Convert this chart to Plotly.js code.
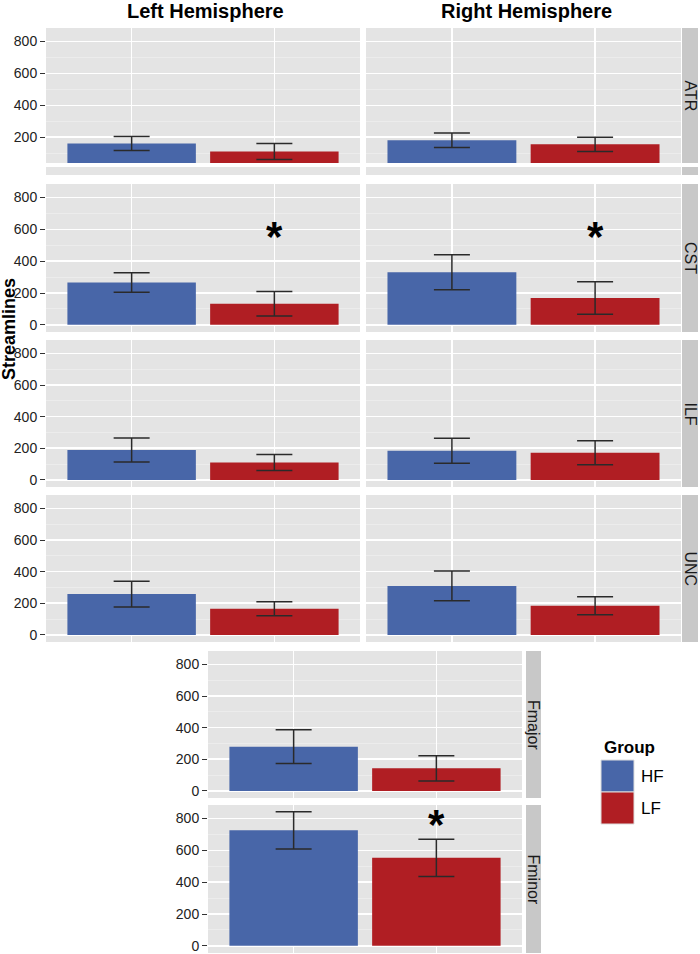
<!DOCTYPE html>
<html>
<head>
<meta charset="utf-8">
<script src="https://cdn.plot.ly/plotly-3.0.1.min.js"></script>
<style>html,body{margin:0;padding:0;background:#fff;}#chart{width:700px;height:954px;}</style>
</head>
<body>
<div id="chart"></div>
<script>
// ---- data ----
const groups = ['HF', 'LF'];
const tractsLR = ['ATR', 'CST', 'ILF', 'UNC'];
const tractsComm = ['Fmajor', 'Fminor'];
const hemispheres = ['Left Hemisphere', 'Right Hemisphere'];

const leftHF = [161, 266, 189, 258];
const leftHFerr = [44, 62, 76, 82];
const leftLF = [110, 133, 110, 165];
const leftLFerr = [50, 77, 51, 44];
const rightHF = [181, 330, 184, 310];
const rightHFerr = [46, 110, 79, 94];
const rightLF = [155, 169, 172, 185];
const rightLFerr = [45, 102, 76, 57];
const commHF = [280, 726];
const commHFerr = [107, 117];
const commLF = [143, 553];
const commLFerr = [80, 117];

// significance markers: [panel key, group, y value]
const sigPanel = ['left-CST', 'right-CST', 'comm-Fminor'];
const sigGroup = ['LF', 'LF', 'LF'];
const sigY = [555, 555, 762];

const yTicks = [0, 200, 400, 600, 800];
const yTitle = 'Streamlines';
const legendTitle = 'Group';

// ---- styles ----
const W = 700, H = 954;
const colHF = '#4866A8', colLF = '#B01E23';
const barColors = [colHF, colLF];
const errStyle = {type: 'data', visible: true, color: '#2a2a2a', thickness: 1.5, width: 18};
const px = v => v / W;
const py = v => 1 - v / H;

// column x-pixel extents
const colX = {left: [46, 360], right: [366, 681], comm: [208, 522]};
// row y-pixel extents (top, bottom)
const rowY = [[28, 163], [184, 332], [340, 487], [495, 642], [651, 798], [805, 953]];
const stripX = {lr: [682, 698], comm: [526, 541]};

const data = [];
const layout = {
  width: W, height: H,
  margin: {l: 0, r: 0, t: 0, b: 0},
  paper_bgcolor: '#ffffff',
  plot_bgcolor: '#E4E4E4',
  showlegend: false,
  font: {family: 'Liberation Sans Narrow, Liberation Sans, Arial, sans-serif', color: '#1a1a1a', size: 13},
  bargap: 0.1,
  shapes: [],
  annotations: []
};

function xaxisDef(ext) {
  return {
    domain: [px(ext[0]), px(ext[1])],
    type: 'category', categoryarray: groups, categoryorder: 'array',
    range: [-0.6, 1.6],
    showgrid: true, gridcolor: '#ffffff', gridwidth: 1.6,
    showticklabels: false, ticks: '', zeroline: false, showline: false, fixedrange: true
  };
}
function yaxisDef(ext, anchor, range) {
  return {
    domain: [py(ext[1]), py(ext[0])],
    anchor: anchor,
    range: range,
    tickvals: yTicks,
    ticks: 'outside', ticklen: 5, tickwidth: 1, tickcolor: '#333333',
    tickfont: {size: 14, color: '#222222', family: 'Liberation Sans Narrow, Liberation Sans, Arial, sans-serif'},
    showgrid: true, gridcolor: '#ffffff', gridwidth: 1.6,
    minor: {dtick: 100, tick0: 0, showgrid: true, gridcolor: '#EFEFEF', gridwidth: 0.7, ticks: ''},
    zeroline: false, showline: false, fixedrange: true
  };
}

layout.xaxis = xaxisDef(colX.left);
layout.xaxis2 = xaxisDef(colX.right);
layout.xaxis3 = xaxisDef(colX.comm);
layout.xaxis.anchor = 'y4';
layout.xaxis2.anchor = 'y4';
layout.xaxis3.anchor = 'y6';

const fullRange = [-45, 885];
for (let r = 0; r < 6; r++) {
  const name = r === 0 ? 'yaxis' : 'yaxis' + (r + 1);
  const anchor = r < 4 ? 'x' : 'x3';
  const range = r === 0 ? [38, 885] : fullRange;
  layout[name] = yaxisDef(rowY[r], anchor, range);
}

function addBars(vals, errs, xa, ya) {
  data.push({
    type: 'bar', x: groups, y: vals, xaxis: xa, yaxis: ya,
    width: 0.9,
    marker: {color: barColors, line: {width: 0}},
    error_y: Object.assign({array: errs}, errStyle),
    hoverinfo: 'skip'
  });
}

const sigMap = {};
sigPanel.forEach((p, i) => { sigMap[p] = {g: sigGroup[i], y: sigY[i]}; });

function addSig(key, xa, ya) {
  const s = sigMap[key];
  if (!s) return;
  layout.annotations.push({
    x: s.g, y: s.y, xref: xa, yref: ya, text: '*', showarrow: false,
    font: {size: 42, family: 'Liberation Sans, Arial, sans-serif', weight: 'bold', color: '#000'},
    yanchor: 'middle', xanchor: 'center'
  });
}

function addStrip(label, sx, ext) {
  layout.shapes.push({type: 'rect', xref: 'paper', yref: 'paper', x0: px(sx[0]), x1: px(sx[1]),
    y0: py(ext[1]), y1: py(ext[0]), fillcolor: '#C8C8C8', line: {width: 0}, layer: 'below'});
  layout.annotations.push({x: px((sx[0] + sx[1]) / 2), y: py((ext[0] + ext[1]) / 2), xref: 'paper', yref: 'paper',
    text: label, textangle: 90, showarrow: false, xanchor: 'center', yanchor: 'middle',
    font: {size: 16, color: '#1a1a1a', family: 'Liberation Sans, Arial, sans-serif'}});
}

// rows 1-4 (left/right hemisphere)
for (let r = 0; r < 4; r++) {
  const ya = r === 0 ? 'y' : 'y' + (r + 1);
  addBars([leftHF[r], leftLF[r]], [leftHFerr[r], leftLFerr[r]], 'x', ya);
  addBars([rightHF[r], rightLF[r]], [rightHFerr[r], rightLFerr[r]], 'x2', ya);
  addSig('left-' + tractsLR[r], 'x', ya);
  addSig('right-' + tractsLR[r], 'x2', ya);
  addStrip(tractsLR[r], stripX.lr, rowY[r]);
}
// rows 5-6 (commissural)
for (let k = 0; k < 2; k++) {
  const ya = 'y' + (k + 5);
  addBars([commHF[k], commLF[k]], [commHFerr[k], commLFerr[k]], 'x3', ya);
  addSig('comm-' + tractsComm[k], 'x3', ya);
  addStrip(tractsComm[k], stripX.comm, rowY[4 + k]);
}

// truncated bottom sliver of the top row (as in the reference)
[[colX.left[0], colX.left[1], '#E4E4E4'], [colX.right[0], colX.right[1], '#E4E4E4'], [stripX.lr[0], stripX.lr[1], '#C8C8C8']]
  .forEach(s => layout.shapes.push({type: 'rect', xref: 'paper', yref: 'paper', x0: px(s[0]), x1: px(s[1]),
    y0: py(175), y1: py(167), fillcolor: s[2], line: {width: 0}, layer: 'below'}));

// column titles
hemispheres.forEach((t, i) => {
  const ext = i === 0 ? colX.left : colX.right;
  layout.annotations.push({x: px((ext[0] + ext[1]) / 2 + 3), y: py(11), xref: 'paper', yref: 'paper', text: t,
    showarrow: false, xanchor: 'center', yanchor: 'middle',
    font: {size: 20, family: 'Liberation Sans, Arial, sans-serif', weight: 'bold', color: '#000'}});
});

// y title
layout.annotations.push({x: px(9), y: py(329), xref: 'paper', yref: 'paper', text: yTitle, textangle: -90,
  showarrow: false, xanchor: 'center', yanchor: 'middle',
  font: {size: 18, family: 'Liberation Sans, Arial, sans-serif', weight: 'bold', color: '#000'}});

// legend (drawn manually to match ggplot key size)
layout.annotations.push({x: px(602), y: py(747), xref: 'paper', yref: 'paper', text: legendTitle,
  showarrow: false, xanchor: 'left', yanchor: 'middle',
  font: {size: 17, family: 'Liberation Sans, Arial, sans-serif', weight: 'bold', color: '#000'}});
groups.forEach((g, i) => {
  const top = 760 + i * 32;
  layout.shapes.push({type: 'rect', xref: 'paper', yref: 'paper', x0: px(601), x1: px(634),
    y0: py(top + 32), y1: py(top), fillcolor: barColors[i], line: {width: 1, color: '#DDDDDD'}});
  layout.annotations.push({x: px(639), y: py(top + 16), xref: 'paper', yref: 'paper', text: g,
    showarrow: false, xanchor: 'left', yanchor: 'middle',
    font: {size: 17, family: 'Liberation Sans, Arial, sans-serif', color: '#000'}});
});

Plotly.newPlot('chart', data, layout, {displayModeBar: false, staticPlot: true});
</script>
</body>
</html>
